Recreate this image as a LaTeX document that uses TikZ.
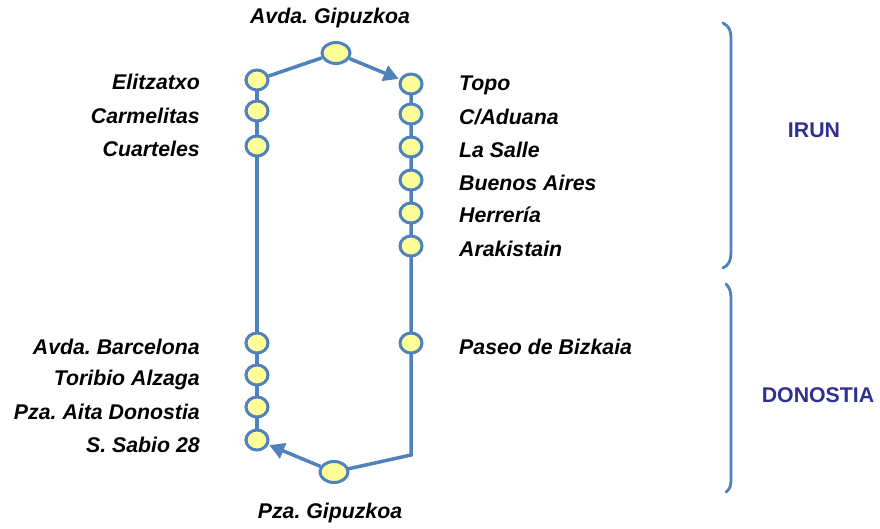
\documentclass[tikz,border=0pt]{standalone}
\usepackage{fontspec}
\setmainfont{Liberation Sans}
\usetikzlibrary{shapes.geometric,arrows.meta,backgrounds}
\definecolor{lineblue}{RGB}{79,129,189}
\definecolor{stopfill}{RGB}{255,255,153}
\definecolor{zonecol}{RGB}{46,49,146}
\frenchspacing
\begin{document}
\begin{tikzpicture}[x=1pt,y=-1pt,
  stop/.style={ellipse,draw=lineblue,fill=stopfill,line width=3pt,minimum width=22pt,minimum height=20pt,inner sep=0pt},
  bigstop/.style={stop,minimum width=28pt,minimum height=21pt},
  route/.style={draw=lineblue,line width=3.5pt},
  routearrow/.style={route,-{Triangle[length=15pt,width=16pt]}},
  lbl/.style={font=\fontsize{21.3}{25}\selectfont\bfseries\itshape,inner sep=0pt},
  zone/.style={font=\fontsize{21.3}{25}\selectfont\bfseries,text=zonecol,inner sep=0pt},
  brace/.style={draw=lineblue,line width=2.8pt,line cap=round}]
\useasboundingbox (0,0) rectangle (880,528);
% stops
\node[stop] (elit) at (257,80) {};
\node[stop] (carm) at (257,111) {};
\node[stop] (cuar) at (257,146) {};
\node[stop] (barc) at (257,343) {};
\node[stop] (tori) at (257,375) {};
\node[stop] (aita) at (257,407) {};
\node[stop] (sabio) at (257,440) {};
\node[stop] (topo) at (411,84) {};
\node[stop] (adua) at (411,114) {};
\node[stop] (salle) at (411,147) {};
\node[stop] (baires) at (411,180) {};
\node[stop] (herr) at (411,213) {};
\node[stop] (arak) at (411,246) {};
\node[stop] (paseo) at (411,343) {};
\node[bigstop] (agip) at (336,53) {};
\node[bigstop] (pgip) at (334,472) {};
\coordinate (corner) at (411,455);
% route lines
\begin{scope}[on background layer]
\draw[route] (elit.center) -- (sabio.center);
\draw[route] (topo.center) -- (corner) -- (pgip.center);
\end{scope}
\draw[route] (elit) -- (agip);
\draw[routearrow,shorten >=1pt] (agip) -- (topo);
\draw[routearrow,shorten >=1pt] (pgip) -- (sabio);
% labels
\node[lbl] (tagip) at (330,18) {Avda. Gipuzkoa};
\node[lbl] (tpgip) at (330,513) {Pza. Gipuzkoa};
\node[lbl,anchor=east] (telit) at (200,82) {Elitzatxo};
\node[lbl,anchor=east] (tcarm) at (200,116) {Carmelitas};
\node[lbl,anchor=east] (tcuar) at (200,149) {Cuarteles};
\node[lbl,anchor=east] (tbarc) at (200,347) {Avda. Barcelona};
\node[lbl,anchor=east] (ttori) at (200,380) {Toribio Alzaga};
\node[lbl,anchor=east] (taita) at (200,412) {Pza. Aita Donostia};
\node[lbl,anchor=east] (tsabio) at (200,445) {S. Sabio 28};
\node[lbl,anchor=west] (ttopo) at (459,85) {Topo};
\node[lbl,anchor=west] (tadua) at (459,117) {C/Aduana};
\node[lbl,anchor=west] (tsalle) at (459,150) {La Salle};
\node[lbl,anchor=west] (tbaires) at (459,183) {Buenos Aires};
\node[lbl,anchor=west] (therr) at (459,215) {Herrería};
\node[lbl,anchor=west] (tarak) at (459,249) {Arakistain};
\node[lbl,anchor=west] (tpaseo) at (459,347) {Paseo de Bizkaia};
% zones
\draw[brace] (723,23) .. controls (729,26) and (731,30) .. (731,40) -- (731,250) .. controls (731,261) and (729,265) .. (723,268);
\draw[brace] (726,284) .. controls (730,288) and (731,292) .. (731,300) -- (731,478) .. controls (731,486) and (730,489) .. (726,492);
\node[zone] (irun) at (814,130) {IRUN};
\node[zone] (donostia) at (818,395) {DONOSTIA};
\end{tikzpicture}
\end{document}
